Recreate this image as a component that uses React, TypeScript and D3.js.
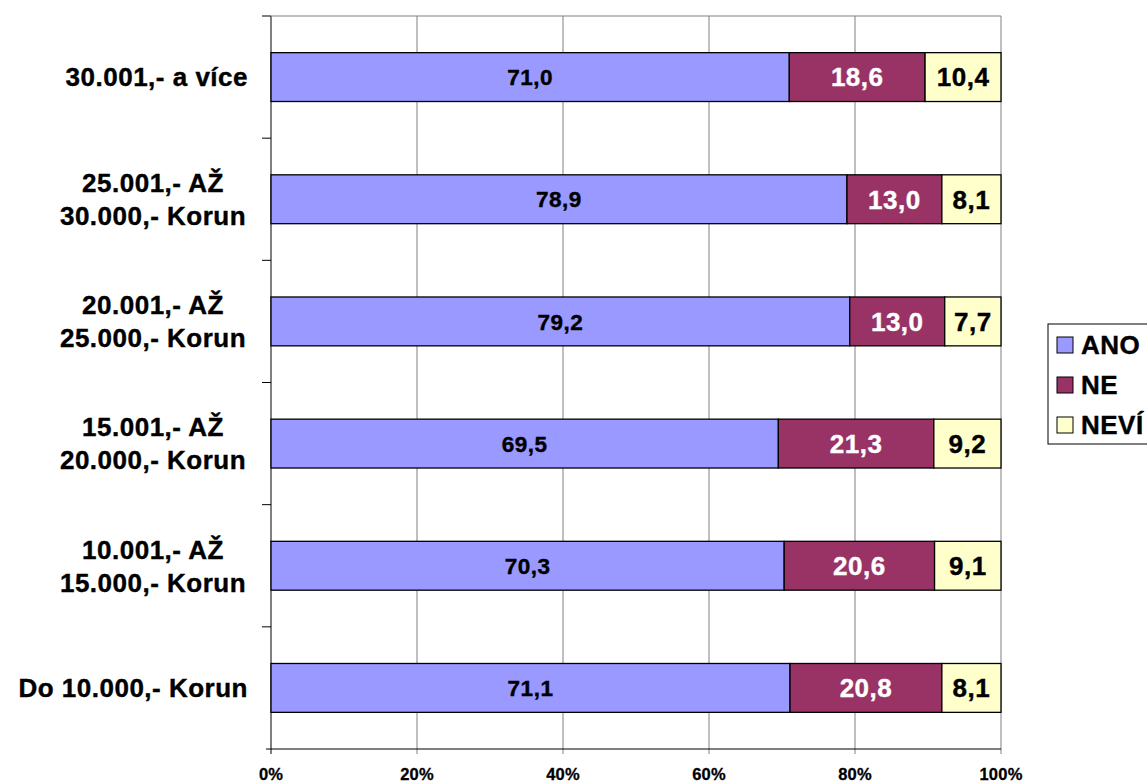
import * as d3 from 'd3';

const categories = [
  '30.001,- a více',
  '25.001,- AŽ|30.000,- Korun',
  '20.001,- AŽ|25.000,- Korun',
  '15.001,- AŽ|20.000,- Korun',
  '10.001,- AŽ|15.000,- Korun',
  'Do 10.000,- Korun',
];
const ano = [71.0, 78.9, 79.2, 69.5, 70.3, 71.1];
const ne = [18.6, 13.0, 13.0, 21.3, 20.6, 20.8];
const nevi = [10.4, 8.1, 7.7, 9.2, 9.1, 8.1];
const seriesNames = ['ANO', 'NE', 'NEVÍ'];
const seriesColors = ['#9999FF', '#993366', '#FFFFCC'];
const labelColors = ['#000', '#fff', '#000'];
const xTicks = [0, 20, 40, 60, 80, 100];

const W = 1147;
const H = 782;
const margin = { top: 16, right: 146, bottom: 33, left: 271 };
const font = "'Liberation Sans', Arial, sans-serif";

export default function App() {
  const innerW = W - margin.left - margin.right;
  const innerH = H - margin.top - margin.bottom;
  const x = d3.scaleLinear().domain([0, 100]).range([0, innerW]);
  const y = d3
    .scaleBand<string>()
    .domain(categories)
    .range([0, innerH])
    .paddingInner(0.6)
    .paddingOuter(0.3);

  const series = [ano, ne, nevi];
  const rows = categories.map((c, i) => {
    const vals = series.map((s) => s[i]);
    const total = d3.sum(vals);
    let acc = 0;
    return vals.map((v, k) => {
      const x0 = (acc / total) * 100;
      acc += v;
      return { c, k, v, x0, x1: (acc / total) * 100 };
    });
  });
  const step = y.step();
  const lineGap = 33;

  return (
    <svg
      width={W}
      height={H}
      style={{ position: 'absolute', left: 0, top: 0, background: '#fff', fontFamily: font }}
    >
      <g transform={`translate(${margin.left},${margin.top})`}>
        {xTicks.map((t) => (
          <line
            key={t}
            x1={x(t)}
            x2={x(t)}
            y1={0}
            y2={innerH + 5}
            stroke={t === 0 ? '#000' : '#808080'}
            strokeWidth={1}
          />
        ))}
        <line x1={0} x2={innerW} y1={0} y2={0} stroke="#808080" />
        <line x1={-5} x2={innerW} y1={innerH} y2={innerH} stroke="#000" />
        {categories.map((c, i) => (
          <line key={c} x1={-9} x2={0} y1={i * step} y2={i * step} stroke="#000" />
        ))}
        {rows.map((segs) =>
          segs.map((s) => (
            <g key={s.c + s.k}>
              <rect
                x={x(s.x0)}
                y={y(s.c)}
                width={x(s.x1) - x(s.x0)}
                height={y.bandwidth()}
                fill={seriesColors[s.k]}
                stroke="#000"
                strokeWidth={1.3}
              />
              <text
                x={(x(s.x0) + x(s.x1)) / 2}
                y={(y(s.c) ?? 0) + y.bandwidth() / 2}
                dy="0.36em"
                textAnchor="middle"
                fontWeight="bold"
                fontSize={s.k === 0 ? 22.5 : 26}
                letterSpacing={0.5}
                fill={labelColors[s.k]}
                stroke={labelColors[s.k]}
                strokeWidth={0.4}
              >
                {s.v.toFixed(1).replace('.', ',')}
              </text>
            </g>
          ))
        )}
        {categories.map((c) => {
          const lines = c.split('|');
          const cy = (y(c) ?? 0) + y.bandwidth() / 2;
          const multi = lines.length > 1;
          return (
            <text
              key={c}
              y={cy - ((lines.length - 1) * lineGap) / 2}
              fontWeight="bold"
              fontSize={26}
              letterSpacing={0.5}
              stroke="#000"
              strokeWidth={0.4}
            >
              {lines.map((l, j) => (
                <tspan
                  key={j}
                  x={multi ? -118 : -23}
                  dy={j === 0 ? '0.36em' : lineGap}
                  textAnchor={multi ? 'middle' : 'end'}
                >
                  {l}
                </tspan>
              ))}
            </text>
          );
        })}
        {xTicks.map((t) => (
          <text
            key={t}
            x={x(t)}
            y={innerH + 31}
            textAnchor="middle"
            fontWeight="bold"
            fontSize={16.5}
            letterSpacing={0.2}
            stroke="#000"
            strokeWidth={0.3}
          >
            {t}%
          </text>
        ))}
      </g>
      <g transform="translate(1048,324)">
        <rect x={0} y={0} width={120} height={120} fill="#fff" stroke="#000" strokeWidth={1} />
        {seriesNames.map((n, i) => (
          <g key={n} transform={`translate(0,${21 + i * 40})`}>
            <rect x={9} y={-8} width={16} height={16} fill={seriesColors[i]} stroke="#000" strokeWidth={1} />
            <text
              x={33}
              y={0}
              dy="0.36em"
              fontWeight="bold"
              fontSize={26}
              letterSpacing={0.5}
              stroke="#000"
              strokeWidth={0.4}
            >
              {n}
            </text>
          </g>
        ))}
      </g>
    </svg>
  );
}
